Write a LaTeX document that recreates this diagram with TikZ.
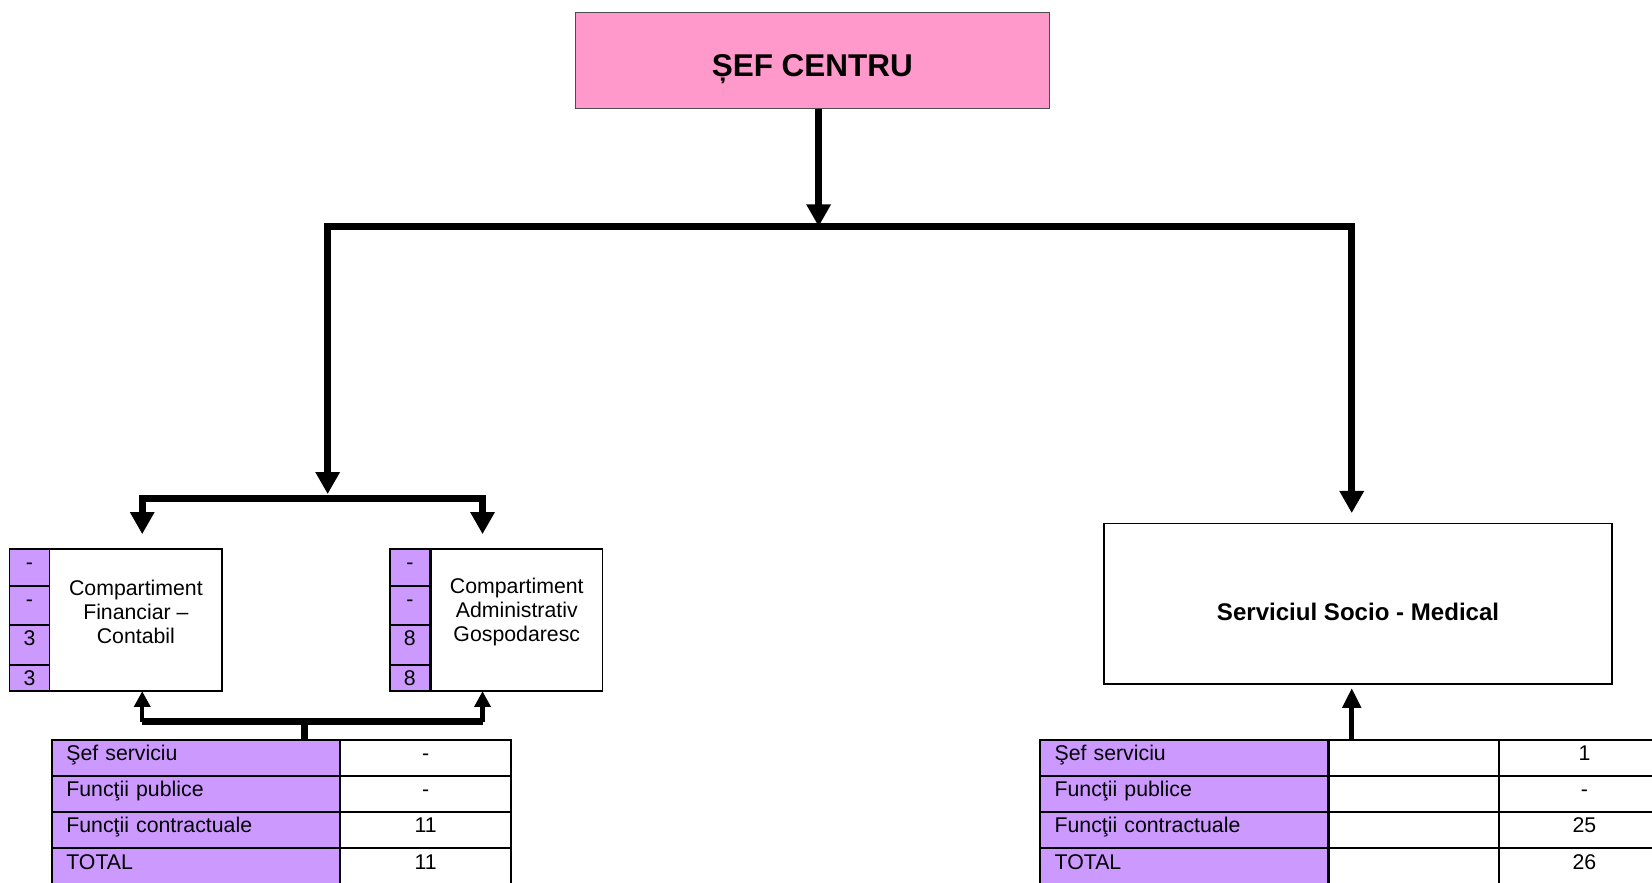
\documentclass[tikz,border=0pt]{standalone}
\usepackage{fontspec}
\setmainfont{Liberation Sans}
\usetikzlibrary{shapes, arrows.meta, calc, positioning}
\definecolor{roz}{HTML}{FF99CC}
\definecolor{mov}{HTML}{CC99FF}
\newcommand{\orgfont}{\fontsize{11.5}{13}\selectfont}
\tikzset{
  bigtip/.tip={Triangle[length=0.42cm,width=0.44cm]},
  smalltip/.tip={Triangle[length=0.3cm,width=0.3cm]},
  midtip/.tip={Triangle[length=0.38cm,width=0.34cm]},
  heavy/.style={line width=0.13cm},
  stem/.style={line width=0.08cm},
}
\begin{document}
\begin{tikzpicture}[x=0.02cm,y=-0.02cm]
\clip (0,0) rectangle (1568,838);
\begin{scope}[line width=0.9pt]
\tikzstyle{every node}=[draw,shape=rectangle,inner sep=0pt,outer sep=0pt,font=\orgfont]
\tikzstyle{unit}=[align=center]
\tikzstyle{numcell}=[fill=mov,minimum width=0.76cm,text height=0.39cm]
\tikzstyle{rowlab}=[fill=mov,text width=4.92cm,inner xsep=0.28cm,align=left,text height=0.4cm,text depth=0.286cm,line width=1.2pt]
\tikzstyle{cell}=[minimum width=3.24cm,text height=0.4cm,text depth=0.286cm,line width=1.2pt]
% conducere
\node[draw=black!70,fill=roz,line width=0.6pt,minimum width=9cm,minimum height=1.82cm,text height=0.8cm,text depth=0.18cm,
      font=\fontsize{17}{20}\selectfont\bfseries] (sef) at (771,57.5) {ȘEF CENTRU};
% compartimente
\node[minimum width=3.28cm,minimum height=2.7cm] (fin) at (129,588.5) {};
\node[minimum width=3.26cm,minimum height=2.7cm] (adm) at (490.5,588.5) {};
\node[draw=none,unit] (fintxt) at (129,580.5) {Compartiment\\Financiar --\\Contabil};
\node[draw=none,unit] (admtxt) at (490.5,580.5) {Compartiment\\Administrativ\\Gospodaresc};
\node[minimum width=9.64cm,minimum height=3.04cm,text height=0.75cm,text depth=0.1cm,
      font=\fontsize{13}{15}\selectfont\bfseries] (soc) at (1289,573) {Serviciul Socio - Medical};
\foreach \v/\t/\b [count=\i] in {-/521/556, -/556/593, 3/593/631, 3/631/656}
  \node[numcell,anchor=north west,text depth={(\b-\t)*0.02cm-0.39cm}] (fin\i) at (9,\t) {\v};
\foreach \v/\t/\b [count=\i] in {-/521/556, -/556/593, 8/593/631, 8/631/656}
  \node[numcell,anchor=north west,text depth={(\b-\t)*0.02cm-0.39cm}] (adm\i) at (370,\t) {\v};
% tabele
\foreach \lab/\val [count=\r] in {Şef serviciu/-, Funcţii publice/-, Funcţii contractuale/11, TOTAL/11} {
  \node[rowlab,anchor=north west] (lta\r) at (49,{702+(\r-1)*34.3}) {\lab};
  \node[cell,right=0cm of lta\r] (ltb\r) {\val};
}
\foreach \lab/\val [count=\r] in {Şef serviciu/1, Funcţii publice/-, Funcţii contractuale/25, TOTAL/26} {
  \node[rowlab,anchor=north west] (rta\r) at (987,{702+(\r-1)*34.3}) {\lab};
  \node[cell,right=0cm of rta\r] (rtb\r) {};
  \node[cell,right=0cm of rtb\r] (rtc\r) {\val};
}
\end{scope}
% legaturi
\coordinate (jm) at (777,215);
\coordinate (jl) at (311,215);
\coordinate (jr) at (1283,215);
\coordinate (sub) at (311,473);
\coordinate (fa) at (135,473);
\coordinate (aa) at (458,473);
\coordinate (fb) at (135,685);
\coordinate (ab) at (458,685);
\coordinate (fm) at (289,685);
\draw[heavy,-bigtip] (sef.south -| jm) -- (jm);
\draw[heavy,bigtip-bigtip,shorten <=0.08cm,shorten >=0.2cm] (sub) -- (jl) -- (jr) -- (jr |- soc.north);
\draw[heavy,bigtip-bigtip,shorten <=0.28cm,shorten >=0.28cm] (fa |- fin.north) -- (fa) -- (aa) -- (aa |- adm.north);
\draw[stem,-smalltip] (fb) -- (fb |- fin.south);
\draw[stem,-smalltip] (ab) -- (ab |- adm.south);
\draw[heavy] (fb) -- (ab);
\draw[heavy] (fm) -- (fm |- lta1.north);
\draw[line width=0.1cm,-midtip,shorten >=0.08cm] (rta1.north -| jr) -- (jr |- soc.south);
\end{tikzpicture}
\end{document}
